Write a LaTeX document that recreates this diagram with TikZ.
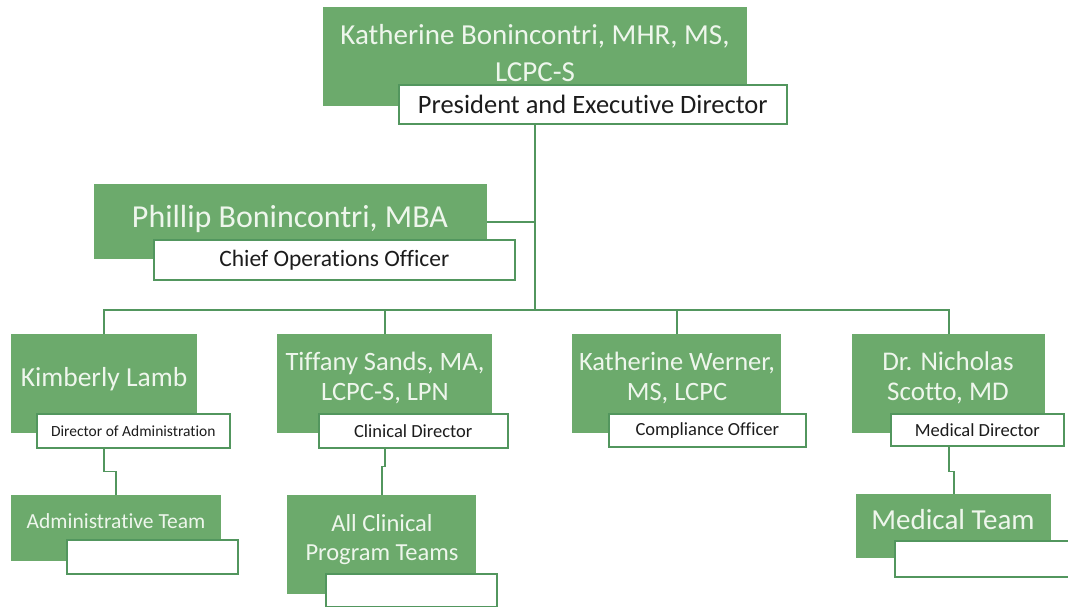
\documentclass[tikz,border=0pt]{standalone}
\usepackage{fontspec}
\setmainfont{Carlito}[Ligatures=NoCommon]
\definecolor{orggreen}{RGB}{108,170,108}
\definecolor{orgline}{RGB}{82,150,94}
\definecolor{namewhite}{RGB}{238,246,236}
\definecolor{roleblack}{RGB}{28,28,28}
\begin{document}
\begin{tikzpicture}[x=1pt,y=-1pt,
  greenbox/.style={fill=orggreen, anchor=north west, inner sep=0pt},
  rolebox/.style={fill=white, draw=orgline, line width=1.6pt, anchor=north west, inner sep=0pt, text=roleblack},
  nametext/.style={text=namewhite, align=center, inner sep=0pt},
  link/.style={draw=orgline, line width=1.6pt}]
\useasboundingbox (0,0) rectangle (1068,607);

% president
\node[greenbox, minimum width=424pt, minimum height=99pt] (presgreen) at (323,7) {};
\node[nametext, font=\fontsize{29}{37}\selectfont] (presname) at (535,53) {Katherine Bonincontri, MHR, MS,\\LCPC-S};
\node[rolebox, minimum width=388pt, minimum height=39pt, font=\fontsize{26.5}{30}\selectfont] (prestitle) at (398,84) {President and Executive Director};

% operations
\node[greenbox, minimum width=393pt, minimum height=75pt] (philgreen) at (94,184) {};
\node[nametext, font=\fontsize{32}{37}\selectfont] (philname) at (290,219) {Phillip Bonincontri, MBA};
\node[rolebox, minimum width=361pt, minimum height=40pt, font=\fontsize{23.5}{27}\selectfont] (philtitle) at (153,239) {Chief Operations Officer};

% directors
\node[greenbox, minimum width=186pt, minimum height=99pt] (kimgreen) at (11,334) {};
\node[nametext, font=\fontsize{27.5}{31}\selectfont] (kimname) at (104,379) {Kimberly Lamb};
\node[rolebox, minimum width=193pt, minimum height=34pt, font=\fontsize{15.5}{18}\selectfont] (kimtitle) at (36,413) {Director of Administration};

\node[greenbox, minimum width=215pt, minimum height=99pt] (tifgreen) at (277,334) {};
\node[nametext, font=\fontsize{26.5}{30}\selectfont] (tifname) at (385,378) {Tiffany Sands, MA,\\LCPC-S, LPN};
\node[rolebox, minimum width=189pt, minimum height=34pt, font=\fontsize{18.5}{22}\selectfont] (tiftitle) at (318,413) {Clinical Director};

\node[greenbox, minimum width=209pt, minimum height=99pt] (wergreen) at (572,334) {};
\node[nametext, font=\fontsize{26.5}{30}\selectfont] (wername) at (677,378) {Katherine Werner,\\MS, LCPC};
\node[rolebox, minimum width=197pt, minimum height=33pt, font=\fontsize{18.5}{22}\selectfont] (wertitle) at (608,413) {Compliance Officer};

\node[greenbox, minimum width=193pt, minimum height=99pt] (nicgreen) at (852,334) {};
\node[nametext, font=\fontsize{27}{30}\selectfont] (nicname) at (948,378) {Dr. Nicholas\\Scotto, MD};
\node[rolebox, minimum width=173pt, minimum height=32pt, font=\fontsize{18.5}{22}\selectfont] (nictitle) at (890,413) {Medical Director};

% teams
\node[greenbox, minimum width=210pt, minimum height=66pt] (admingreen) at (11,495) {};
\node[nametext, font=\fontsize{21.5}{25}\selectfont] (adminname) at (116,521) {Administrative Team};
\node[rolebox, minimum width=171pt, minimum height=34pt] (admintitle) at (66,539) {};

\node[greenbox, minimum width=189pt, minimum height=99pt] (clingreen) at (287,495) {};
\node[nametext, font=\fontsize{24.5}{29}\selectfont] (clinname) at (382,540) {All Clinical\\Program Teams};
\node[rolebox, minimum width=171pt, minimum height=33pt] (clintitle) at (325,573) {};

\node[greenbox, minimum width=195pt, minimum height=64pt] (medgreen) at (856,494) {};
\node[nametext, font=\fontsize{29}{32}\selectfont] (medname) at (953,520) {Medical Team};
\node[rolebox, minimum width=181pt, minimum height=36pt] (medtitle) at (894,540) {};

% connectors
\coordinate (trunk) at (535,310);
\draw[link] (prestitle.south -| trunk) -- (trunk);
\draw[link] (philgreen.east) -- (philgreen.east -| trunk);
\draw[link] (kimgreen.north) |- (trunk) -| (nicgreen.north);
\draw[link] (tifgreen.north) -- (tifgreen.north |- trunk);
\draw[link] (wergreen.north) -- (wergreen.north |- trunk);
\draw[link] (kimgreen |- kimtitle.south) -- ++(0,23) -| (admingreen.north);
\draw[link] (tifgreen |- tiftitle.south) -- ++(0,18) -| (clingreen.north);
\draw[link] (nicgreen |- nictitle.south) -- ++(0,25) -| (medgreen.north);
\end{tikzpicture}
\end{document}
